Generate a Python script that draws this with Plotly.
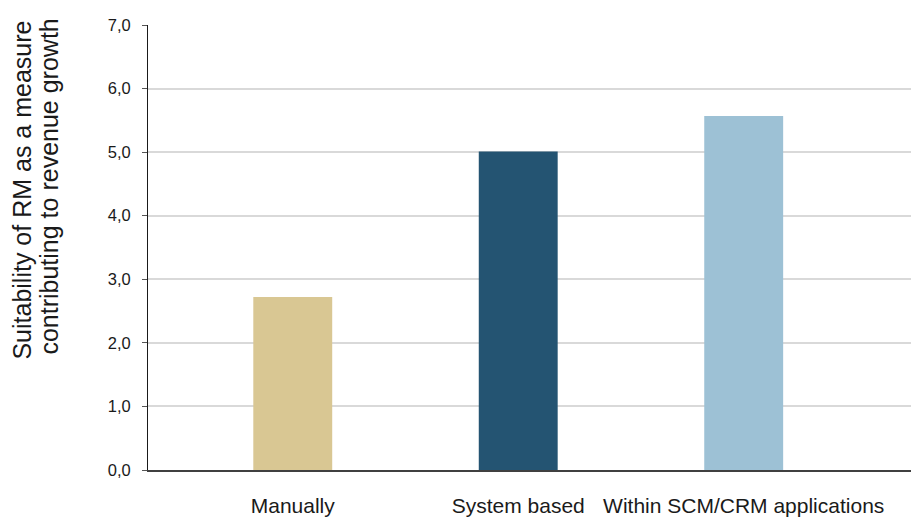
import plotly.graph_objects as go

# Survey result: suitability score by how revenue management is performed
categories = ["Manually", "System based", "Within SCM/CRM applications"]
scores = [2.72, 5.01, 5.57]
bar_colors = ["#d9c793", "#245472", "#9dc1d5"]
y_ticks = [0, 1, 2, 3, 4, 5, 6, 7]
title_lines = ["Suitability of RM as a measure", "contributing to revenue growth"]

fig = go.Figure(
    go.Bar(
        x=categories,
        y=scores,
        marker=dict(color=bar_colors, line=dict(width=0)),
        width=0.35,
        hoverinfo="x+y",
    )
)

font_family = "Liberation Sans, Arial, sans-serif"
text_color = "#1a1a1a"

fig.update_layout(
    template="none",
    width=915,
    height=519,
    margin=dict(l=148, r=4, t=25, b=49),
    paper_bgcolor="white",
    plot_bgcolor="white",
    separators=",.",
    showlegend=False,
    font=dict(family=font_family, color=text_color),
    xaxis=dict(
        type="category",
        range=[-0.642, 2.742],
        automargin=False,
        showgrid=False,
        zeroline=False,
        showline=True,
        linecolor="#404040",
        linewidth=1.5,
        ticks="",
        tickfont=dict(size=21, color=text_color),
        ticklabelstandoff=16,
    ),
    yaxis=dict(
        range=[0, 7],
        automargin=False,
        tickvals=y_ticks,
        tickformat=".1f",
        showgrid=True,
        gridcolor="#d9d9d9",
        gridwidth=1.5,
        zeroline=False,
        showline=True,
        linecolor=text_color,
        linewidth=1,
        ticks="outside",
        ticklen=5,
        tickwidth=1,
        tickcolor="#555555",
        tickfont=dict(size=16.5, color=text_color),
        ticklabelstandoff=8,
    ),
)

# Two-line vertical axis title, placed as rotated annotations
for line, x_pos, y_pos in zip(title_lines, [-0.1645, -0.1291], [0.629, 0.638]):
    fig.add_annotation(
        text=line,
        xref="paper",
        yref="paper",
        x=x_pos,
        y=y_pos,
        xanchor="center",
        yanchor="middle",
        textangle=-90,
        showarrow=False,
        font=dict(size=25, family=font_family, color=text_color),
    )

fig.write_html("out.html")
